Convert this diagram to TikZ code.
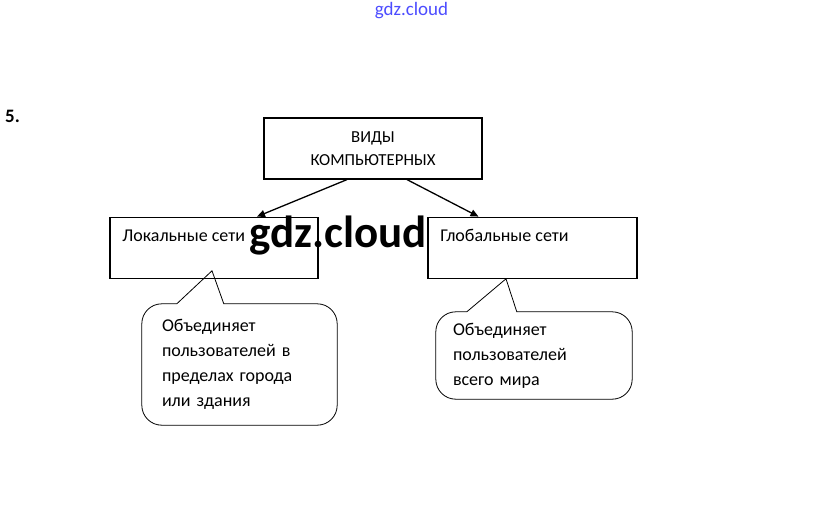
\documentclass[tikz,border=0pt]{standalone}
\usepackage{fontspec}
\setmainfont{Carlito}
\usetikzlibrary{arrows.meta,positioning}
\tikzset{
  box/.style={rectangle, draw, line width=1.2pt, align=center,
              font=\fontsize{16.8}{23.5}\selectfont, minimum width=208pt,
              minimum height=61pt},
  note/.style={rectangle, align=left, inner ysep=0pt, minimum height=87pt,
               font=\fontsize{18}{25}\selectfont},
  noteline/.style={line width=0.8pt},
  arrow/.style={-{Triangle[length=8pt,width=7pt]}, line width=1.3pt},
  lbl/.style={anchor=base west, inner sep=0pt, xshift=12.7pt, yshift=-24.5pt,
              font=\fontsize{18}{20}\selectfont},
  wmark/.style={anchor=base, inner sep=0pt, font=\bfseries\fontsize{45}{48}\selectfont}
}

\begin{document}
\begin{tikzpicture}[x=1pt, y=-1pt]
  \useasboundingbox (0,0) rectangle (823,528);
  \node[anchor=base west, inner sep=0pt, font=\bfseries\fontsize{19}{22}\selectfont] (num) at (5,122.7) {5.};
  \node[anchor=base, inner sep=0pt, text=blue!70, font=\fontsize{19}{22}\selectfont] (site) at (411.5,15) {gdz.cloud};

  \node[box, minimum width=218pt] (head) at (373,148.5) {ВИДЫ\\КОМПЬЮТЕРНЫХ};
  \node[box, below=37pt of head, xshift=-159pt, label={[lbl]north west:Локальные сети}] (loc) {};
  \node[box, minimum width=209pt, below=37pt of head, xshift=159.5pt, label={[lbl]north west:Глобальные сети}] (glob) {};
  \draw[arrow] ([xshift=-26pt]head.south) -- ([xshift=43pt]loc.north);
  \draw[arrow] ([xshift=34pt]head.south) -- ([xshift=-54pt]glob.north);

  % notes under the boxes
  \node[note, text width=155pt, inner xsep=20pt, minimum height=121pt, below=25pt of loc, xshift=25.5pt] (locnote)
    {Объединяет\\пользователей в\\пределах города\\или здания};
  \node[note, text width=162pt, inner xsep=17pt, below=33pt of glob, xshift=1.5pt] (globnote)
    {Объединяет\\пользователей\\всего мира};
  \coordinate (loctip) at ([xshift=-2pt,yshift=8pt]loc.south);
  \coordinate (globtip) at ([xshift=-26.5pt]glob.south);
  \draw[noteline] (locnote.west) [rounded corners=20pt] -- (locnote.north west)
    [sharp corners] -- ([xshift=35pt]locnote.north west) -- (loctip) -- ([xshift=82pt]locnote.north west)
    [rounded corners=20pt] -- (locnote.north east) -- (locnote.south east) -- (locnote.south west) -- cycle;
  \draw[noteline] (globnote.west) [rounded corners=20pt] -- (globnote.north west)
    [sharp corners] -- ([xshift=31pt]globnote.north west) -- (globtip) -- ([xshift=81pt]globnote.north west)
    [rounded corners=20pt] -- (globnote.north east) -- (globnote.south east) -- (globnote.south west) -- cycle;

  \node[wmark] (wm) at (338,247) {gdz.cloud};
\end{tikzpicture}
\end{document}
